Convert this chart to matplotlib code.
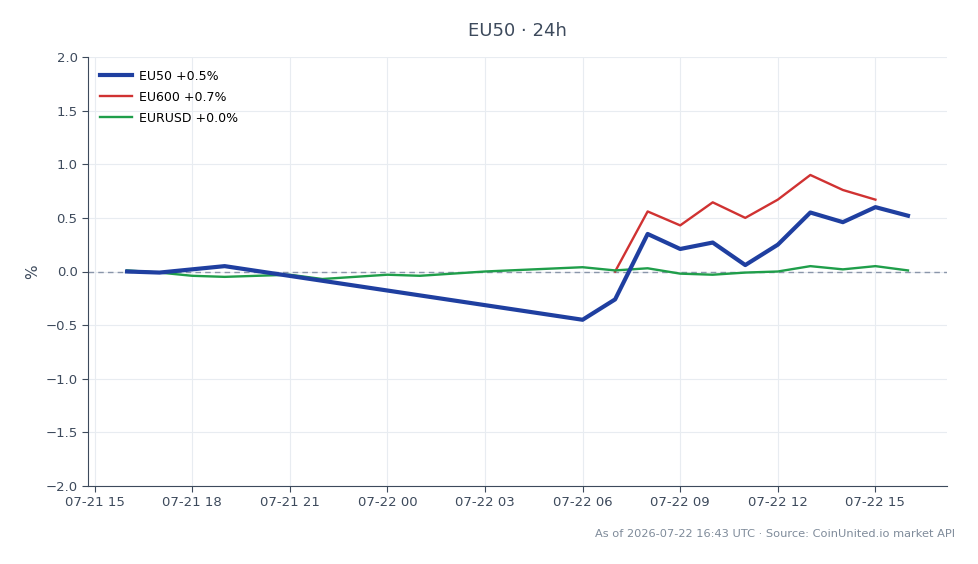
import numpy as np
import pandas as pd
import matplotlib
matplotlib.use("Agg")
import matplotlib.pyplot as plt
import matplotlib.dates as mdates

# hourly times for each series
eu50_t = ["2026-07-21 16:00", "2026-07-21 17:00", "2026-07-21 19:00", "2026-07-22 06:00",
          "2026-07-22 07:00", "2026-07-22 08:00", "2026-07-22 09:00", "2026-07-22 10:00",
          "2026-07-22 11:00", "2026-07-22 12:00", "2026-07-22 13:00", "2026-07-22 14:00",
          "2026-07-22 15:00", "2026-07-22 16:00"]
eu50_v = [0.0, -0.01, 0.05, -0.45, -0.26, 0.35, 0.21, 0.27, 0.06, 0.25, 0.55, 0.46, 0.60, 0.52]

eu600_t = ["2026-07-22 07:00", "2026-07-22 08:00", "2026-07-22 09:00", "2026-07-22 10:00",
           "2026-07-22 11:00", "2026-07-22 12:00", "2026-07-22 13:00", "2026-07-22 14:00",
           "2026-07-22 15:00"]
eu600_v = [0.0, 0.56, 0.43, 0.645, 0.50, 0.67, 0.90, 0.76, 0.67]

eurusd_t = ["2026-07-21 16:00", "2026-07-21 17:00", "2026-07-21 18:00", "2026-07-21 19:00",
            "2026-07-21 20:00", "2026-07-21 21:00", "2026-07-21 22:00", "2026-07-21 23:00",
            "2026-07-22 00:00", "2026-07-22 01:00", "2026-07-22 03:00", "2026-07-22 06:00",
            "2026-07-22 07:00", "2026-07-22 08:00", "2026-07-22 09:00", "2026-07-22 10:00",
            "2026-07-22 11:00", "2026-07-22 12:00", "2026-07-22 13:00", "2026-07-22 14:00",
            "2026-07-22 15:00", "2026-07-22 16:00"]
eurusd_v = [0.01, -0.01, -0.04, -0.05, -0.04, -0.03, -0.07, -0.05,
            -0.03, -0.04, 0.0, 0.04, 0.01, 0.03, -0.02, -0.03,
            -0.01, 0.0, 0.05, 0.02, 0.05, 0.01]

labels = ["EU50 +0.5%", "EU600 +0.7%", "EURUSD +0.0%"]

fig = plt.figure(figsize=(9.79, 5.64), dpi=100)
ax = fig.add_axes([88/979, 1-486/564, (947-88)/979, (486-57)/564])

ax.axhline(0, color="#8a96aa", lw=1, ls=(0, (4, 3)), zorder=1)
ax.plot(pd.to_datetime(eu50_t), eu50_v, color="#1f3fa0", lw=3.0, label=labels[0], zorder=3)
ax.plot(pd.to_datetime(eu600_t), eu600_v, color="#d03232", lw=1.7, label=labels[1], zorder=2)
ax.plot(pd.to_datetime(eurusd_t), eurusd_v, color="#1f9e4a", lw=1.7, label=labels[2], zorder=2)

ax.set_ylim(-2, 2)
ax.set_yticks(np.arange(-2, 2.01, 0.5))
ax.xaxis.set_major_locator(mdates.HourLocator(byhour=range(0, 24, 3)))
ax.xaxis.set_major_formatter(mdates.DateFormatter("%m-%d %H"))
ax.grid(True, color="#e8ecf1", lw=0.8)
ax.set_axisbelow(True)
for s in ["top", "right"]:
    ax.spines[s].set_visible(False)
for s in ["left", "bottom"]:
    ax.spines[s].set_color("#3d4a5c")
ax.tick_params(colors="#3d4a5c", labelsize=9.5, length=4)
ax.set_ylabel("%", color="#3d4a5c", fontsize=11)

ax.legend(loc="upper left", frameon=False, fontsize=9, handlelength=2.5,
          handletextpad=0.6, labelspacing=0.65, borderaxespad=0.6)
fig.text(517/979, 1-31/564, "EU50 · 24h", ha="center", va="center", fontsize=13, color="#3d4a5c")
fig.text(955/979, 1-534/564, "As of 2026-07-22 16:43 UTC · Source: CoinUnited.io market API",
         ha="right", va="center", fontsize=8.2, color="#7f8b9a")

fig.savefig("out.png", dpi=100)
